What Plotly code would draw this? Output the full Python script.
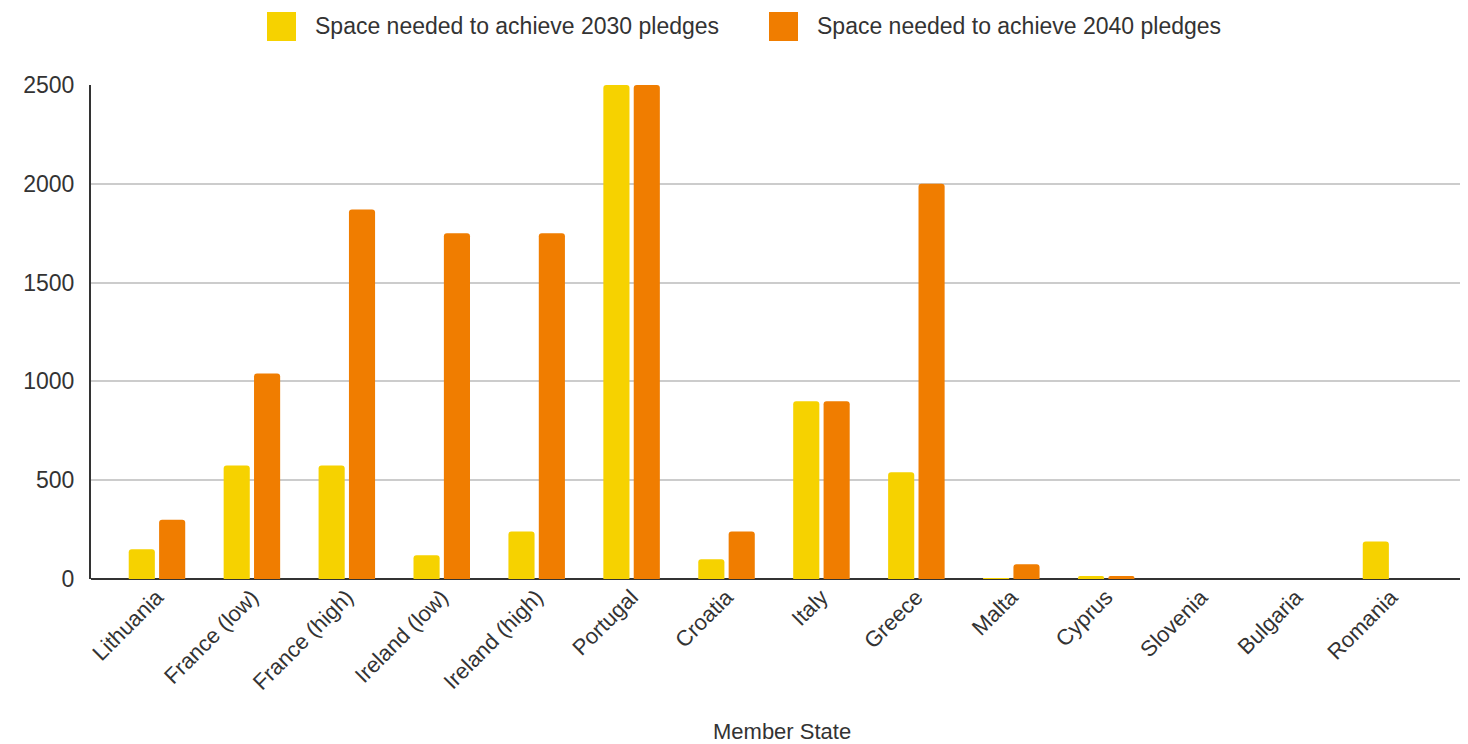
import plotly.graph_objects as go

categories = ["Lithuania", "France (low)", "France (high)", "Ireland (low)", "Ireland (high)",
              "Portugal", "Croatia", "Italy", "Greece", "Malta", "Cyprus", "Slovenia",
              "Bulgaria", "Romania"]
pledges_2030 = [150, 575, 575, 120, 240, 2500, 100, 900, 540, 5, 15, 0, 0, 190]
pledges_2040 = [300, 1040, 1870, 1750, 1750, 2500, 240, 900, 2000, 75, 15, 0, 0, 0]
series_names = ["Space needed to achieve 2030 pledges", "Space needed to achieve 2040 pledges"]
y_ticks = [0, 500, 1000, 1500, 2000, 2500]

YELLOW = "#f6d200"
ORANGE = "#f07d00"
FONT = "Liberation Sans, Arial, sans-serif"
TXT = "#333333"
FS = 23

fig = go.Figure()
fig.add_trace(go.Bar(x=categories, y=pledges_2030, name=series_names[0],
                     marker=dict(color=YELLOW, line=dict(width=0)), showlegend=False))
fig.add_trace(go.Bar(x=categories, y=pledges_2040, name=series_names[1],
                     marker=dict(color=ORANGE, line=dict(width=0)), showlegend=False))

# page body has an 8px default margin, so the figure is drawn 8px smaller
OFF = 8
W, H = 1468 - OFF, 744 - OFF
L, R, T, B = 91 - OFF, 2, 85 - OFF, 744 - 579
pw, ph = W - L - R, H - T - B

def px_x(x):
    return (x - OFF - L) / pw

def px_y(y):
    return (H - B - (y - OFF)) / ph

shapes = []
annotations = []
legend_items = [(267, YELLOW, series_names[0]), (769, ORANGE, series_names[1])]
for x0, col, name in legend_items:
    shapes.append(dict(type="rect", xref="paper", yref="paper",
                       x0=px_x(x0), x1=px_x(x0 + 29), y0=px_y(41), y1=px_y(12),
                       fillcolor=col, line=dict(width=0), layer="above"))
    annotations.append(dict(xref="paper", yref="paper", x=px_x(x0 + 46), y=px_y(26.5),
                            xanchor="left", yanchor="middle", showarrow=False, text=name,
                            font=dict(family=FONT, size=FS, color=TXT)))
annotations.append(dict(xref="paper", yref="paper", x=px_x(782), y=px_y(731),
                        xanchor="center", yanchor="middle", showarrow=False, text="Member State",
                        font=dict(family=FONT, size=22, color=TXT)))

fig.update_layout(
    width=W, height=H,
    margin=dict(l=L, r=R, t=T, b=B, autoexpand=False),
    paper_bgcolor="white", plot_bgcolor="white",
    barmode="group", bargap=0.36, bargroupgap=0.14, barcornerradius=3,
    showlegend=False,
    font=dict(family=FONT, size=FS, color=TXT),
    shapes=shapes, annotations=annotations,
    xaxis=dict(type="category", range=[-0.695, 13.79], tickangle=-45,
               showgrid=False, showline=False, ticks="", automargin=False,
               tickfont=dict(family=FONT, size=22, color=TXT)),
    yaxis=dict(range=[0, 2500], tickvals=y_ticks, showgrid=True, gridcolor="#cccccc", gridwidth=1.5,
               zeroline=True, zerolinecolor="#333333", zerolinewidth=2,
               showline=True, linecolor="#333333", linewidth=2, ticks="", ticklabelstandoff=10,
               automargin=False, tickfont=dict(family=FONT, size=FS, color=TXT)),
)

fig.write_html("out.html")
